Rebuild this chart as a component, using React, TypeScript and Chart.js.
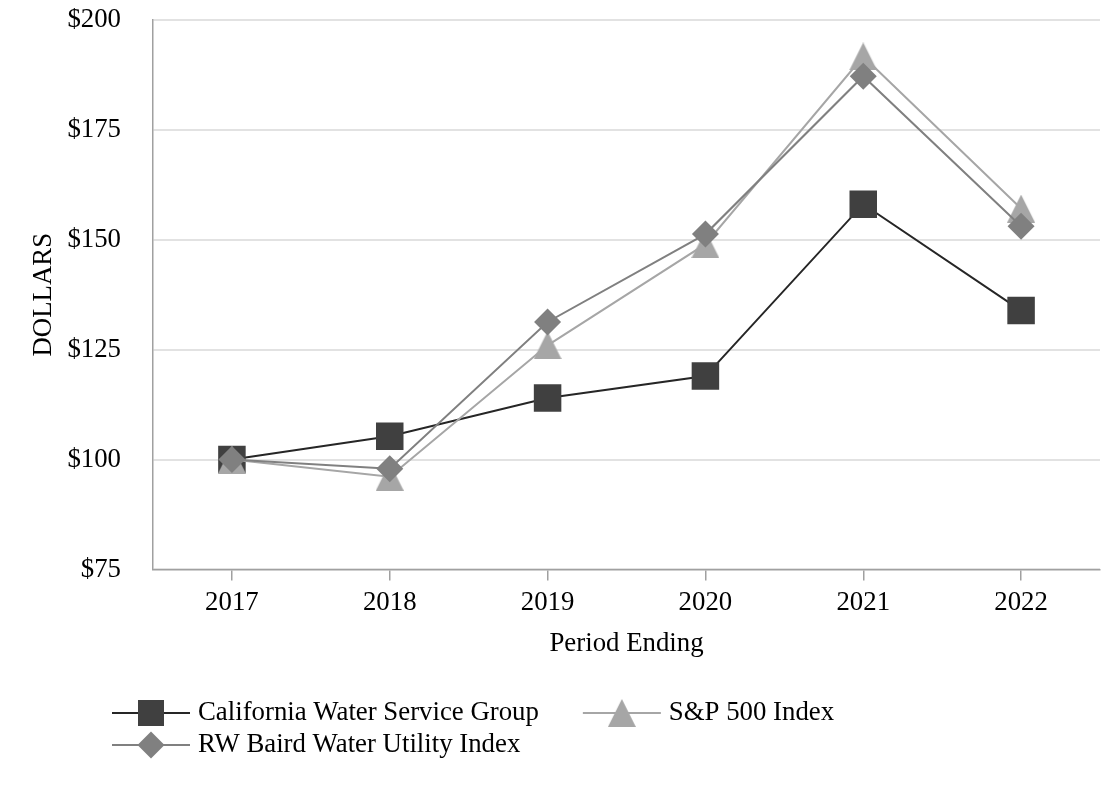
import React, { useEffect, useRef } from 'react';
import { Chart, registerables } from 'chart.js';

Chart.register(...registerables);

const categories = ['2017', '2018', '2019', '2020', '2021', '2022'];
const californiaWater = [100, 105.3, 114.0, 119.0, 158.1, 133.9];
const sp500 = [100, 96.1, 126.0, 149.0, 191.7, 157.1];
const rwBaird = [100, 97.9, 131.3, 151.3, 187.2, 153.1];
const yTicks = [75, 100, 125, 150, 175, 200];
const seriesNames = ['California Water Service Group', 'S&P 500 Index', 'RW Baird Water Utility Index'];
const yTitle = 'DOLLARS';
const xTitle = 'Period Ending';

const FONT = "'Liberation Serif', 'Times New Roman', serif";
const FONT_SIZE = 26.8;
const AXIS_COLOR = '#a0a0a0';
const GRID_COLOR = '#e2e2e2';

function makeTriangle(color: string, size: number): HTMLCanvasElement {
  const c = document.createElement('canvas');
  c.width = size;
  c.height = size;
  const g = c.getContext('2d')!;
  g.fillStyle = color;
  g.beginPath();
  g.moveTo(size / 2, 0);
  g.lineTo(size, size);
  g.lineTo(0, size);
  g.closePath();
  g.fill();
  return c;
}

export default function App() {
  const ref = useRef<HTMLCanvasElement | null>(null);

  useEffect(() => {
    if (!ref.current) return;
    const tri = makeTriangle('#a6a6a6', 28);

    const legendMarkers = [
      { line: '#262626', fill: '#404040', kind: 'square' },
      { line: '#a6a6a6', fill: '#a6a6a6', kind: 'triangle' },
      { line: '#808080', fill: '#808080', kind: 'diamond' },
    ];

    const legendPlugin = {
      id: 'customLegend',
      afterDraw(chart: any) {
        const ctx: CanvasRenderingContext2D = chart.ctx;
        ctx.save();
        ctx.font = `${FONT_SIZE}px ${FONT}`;
        ctx.textBaseline = 'middle';
        ctx.textAlign = 'left';
        const rows = [[0, 1], [2]];
        const rowY = [705, 737];
        rows.forEach((row, r) => {
          let x = 104;
          const y = rowY[r];
          row.forEach((i) => {
            const m = legendMarkers[i];
            ctx.strokeStyle = m.line;
            ctx.lineWidth = 2;
            ctx.beginPath();
            ctx.moveTo(x, y);
            ctx.lineTo(x + 78, y);
            ctx.stroke();
            const cx = x + 39;
            ctx.fillStyle = m.fill;
            if (m.kind === 'square') {
              ctx.fillRect(cx - 13, y - 13, 26, 26);
            } else if (m.kind === 'diamond') {
              ctx.beginPath();
              ctx.moveTo(cx, y - 13.5);
              ctx.lineTo(cx + 13.5, y);
              ctx.lineTo(cx, y + 13.5);
              ctx.lineTo(cx - 13.5, y);
              ctx.closePath();
              ctx.fill();
            } else {
              ctx.drawImage(tri, cx - 14, y - 14, 28, 28);
            }
            ctx.fillStyle = '#000000';
            const tx = x + 86;
            ctx.fillText(seriesNames[i], tx, y);
            x = tx + ctx.measureText(seriesNames[i]).width + 44;
          });
        });
        ctx.restore();
      },
    };

    const chart = new Chart(ref.current, {
      type: 'line',
      data: {
        labels: categories,
        datasets: [
          {
            label: seriesNames[0],
            data: californiaWater,
            borderColor: '#262626',
            backgroundColor: '#404040',
            borderWidth: 2,
            pointStyle: 'rect',
            pointRadius: 19.45,
            pointHoverRadius: 19.45,
            pointBackgroundColor: '#404040',
            pointBorderWidth: 0,
            tension: 0,
            order: 3,
          },
          {
            label: seriesNames[1],
            data: sp500,
            borderColor: '#a6a6a6',
            backgroundColor: '#a6a6a6',
            borderWidth: 2,
            pointStyle: tri as any,
            pointRadius: 14,
            pointHoverRadius: 14,
            pointBorderWidth: 0,
            tension: 0,
            order: 2,
          },
          {
            label: seriesNames[2],
            data: rwBaird,
            borderColor: '#808080',
            backgroundColor: '#808080',
            borderWidth: 2,
            pointStyle: 'rectRot',
            pointRadius: 13.5,
            pointHoverRadius: 13.5,
            pointBackgroundColor: '#808080',
            pointBorderWidth: 0,
            tension: 0,
            order: 1,
          },
        ],
      },
      options: {
        responsive: true,
        maintainAspectRatio: false,
        animation: false,
        layout: { autoPadding: false, padding: { top: 12, right: 12, bottom: 119.8, left: 0 } },
        plugins: {
          legend: { display: false },
          tooltip: { enabled: false },
        },
        scales: {
          x: {
            offset: true,
            afterFit: (scale: any) => {
              scale.paddingLeft = 0;
              scale.paddingRight = 0;
            },
            grid: {
              display: true,
              drawOnChartArea: false,
              drawTicks: true,
              tickLength: 11,
              color: AXIS_COLOR,
              lineWidth: 1.5,
            },
            border: { display: true, color: AXIS_COLOR, width: 1.5 },
            ticks: {
              color: '#000000',
              padding: 6,
              font: { family: FONT, size: FONT_SIZE, lineHeight: 1.2 },
              maxRotation: 0,
            },
            title: {
              display: true,
              text: xTitle,
              color: '#000000',
              font: { family: FONT, size: FONT_SIZE, lineHeight: 1.2 },
              padding: { top: 3.4, bottom: 0 },
            },
          },
          y: {
            min: 75,
            max: 200,
            afterBuildTicks: (scale: any) => {
              scale.ticks = yTicks.map((v) => ({ value: v }));
            },
            afterFit: (scale: any) => {
              scale.width = 145;
              scale.paddingTop = 0;
              scale.paddingBottom = 0;
            },
            grid: {
              color: GRID_COLOR,
              lineWidth: 2,
              drawTicks: false,
            },
            border: { display: true, color: AXIS_COLOR, width: 1.5 },
            ticks: {
              color: '#000000',
              padding: 32,
              font: { family: FONT, size: FONT_SIZE, lineHeight: 1.2 },
              callback: (v: any) => `$${v}`,
            },
            title: {
              display: true,
              text: yTitle,
              color: '#000000',
              font: { family: FONT, size: FONT_SIZE, lineHeight: 1.2 },
              padding: { top: 19.5, bottom: 0 },
            },
          },
        },
      },
      plugins: [legendPlugin],
    });

    return () => chart.destroy();
  }, []);

  return (
    <div style={{ width: 1104, height: 772, position: 'relative' }}>
      <canvas ref={ref} />
    </div>
  );
}
